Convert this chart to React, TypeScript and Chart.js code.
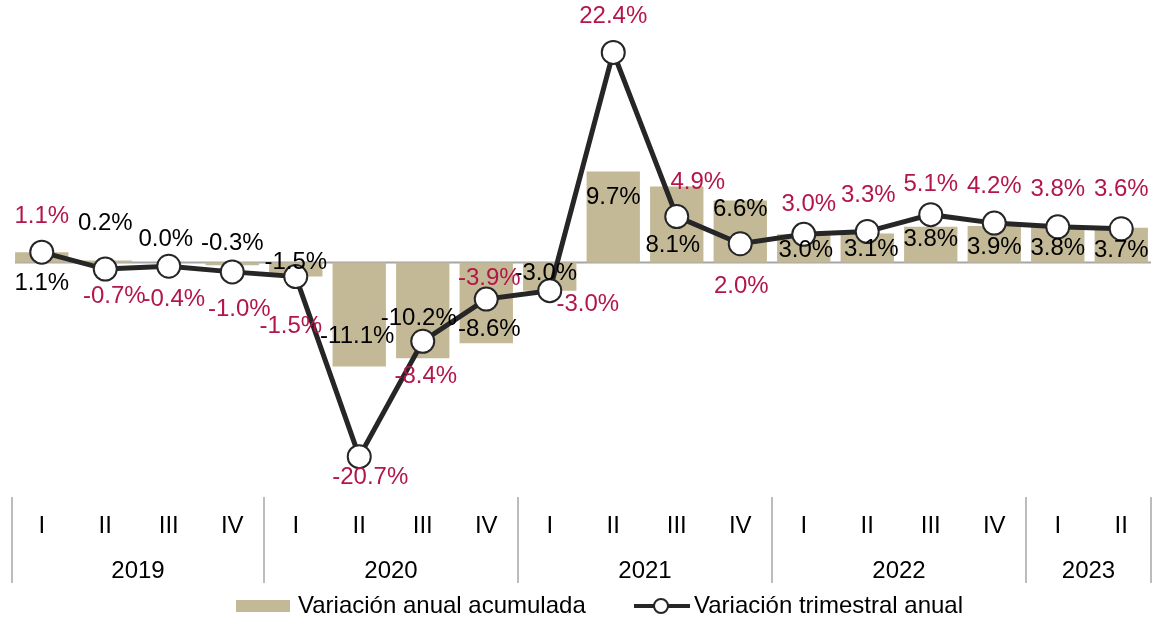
import React, { useEffect, useRef } from "react";
import { Chart, registerables } from "chart.js";

Chart.register(...registerables);

// ---- data ----
const quarters = ["I", "II", "III", "IV", "I", "II", "III", "IV", "I", "II", "III", "IV", "I", "II", "III", "IV", "I", "II"];
const years = ["2019", "2020", "2021", "2022", "2023"];
const quartersPerYear = [4, 4, 4, 4, 2];
const acumulada = [1.1, 0.2, 0.0, -0.3, -1.5, -11.1, -10.2, -8.6, -3.0, 9.7, 8.1, 6.6, 3.0, 3.1, 3.8, 3.9, 3.8, 3.7];
const trimestral = [1.1, -0.7, -0.4, -1.0, -1.5, -20.7, -8.4, -3.9, -3.0, 22.4, 4.9, 2.0, 3.0, 3.3, 5.1, 4.2, 3.8, 3.6];
const seriesNames = ["Variación anual acumulada", "Variación trimestral anual"];

// ---- label placement (style) ----
const lineLabelOffsets: [number, number][] = [
  [0, -36], [9, 27], [5, 33], [7, 37], [-5, 50], [11, 21], [3, 35], [3, -21], [38, 14],
  [0, -36], [21, -34], [1, 43], [5, -30], [1, -36], [0, -30], [0, -37], [0, -37], [0, -39],
];
const barLabelOffsets: [number, number][] = [
  [0, 31], [0, -37], [-3, -23], [0, -22], [0, -14], [-2, -30], [-4, -40], [3, -14], [-4, -17],
  [0, 26], [-4, 59], [0, 9], [2, 16], [4, 16], [0, 13], [0, 21], [0, 22], [0, 23],
];

const BAR_COLOR = "#C3B996";
const LINE_COLOR = "#262626";
const RED = "#B3164B";
const AXIS_GRAY = "#A6A6A6";
const FONT = '"Liberation Sans", Arial, sans-serif';
const FS = 24;

const fmt = (v: number) => v.toFixed(1) + "%";

const overlayPlugin = {
  id: "overlay",
  beforeDatasetsDraw(chart: any) {
    const { ctx, chartArea, scales } = chart;
    const y0 = scales.y.getPixelForValue(0);
    ctx.save();
    ctx.strokeStyle = AXIS_GRAY;
    ctx.lineWidth = 2;
    ctx.beginPath();
    ctx.moveTo(chartArea.left + 5, y0);
    ctx.lineTo(chartArea.right - 2, y0);
    ctx.stroke();
    ctx.restore();
  },
  afterDatasetsDraw(chart: any) {
    const { ctx, scales } = chart;
    const x = scales.x;
    const y = scales.y;
    ctx.save();
    ctx.font = `${FS}px ${FONT}`;
    ctx.textAlign = "center";
    ctx.textBaseline = "middle";
    acumulada.forEach((v, i) => {
      const px = x.getPixelForValue(i) + barLabelOffsets[i][0];
      const py = y.getPixelForValue(v) + barLabelOffsets[i][1];
      ctx.fillStyle = "#000000";
      ctx.fillText(fmt(v), px, py);
    });
    trimestral.forEach((v, i) => {
      const px = x.getPixelForValue(i) + lineLabelOffsets[i][0];
      const py = y.getPixelForValue(v) + lineLabelOffsets[i][1];
      ctx.fillStyle = RED;
      ctx.fillText(fmt(v), px, py);
    });
    ctx.restore();
  },
  afterDraw(chart: any) {
    const { ctx, chartArea, scales } = chart;
    const x = scales.x;
    const step = x.getPixelForValue(1) - x.getPixelForValue(0);
    const top = chartArea.bottom;
    const bottom = top + 86;
    ctx.save();
    // separators
    ctx.strokeStyle = AXIS_GRAY;
    ctx.lineWidth = 1.5;
    let idx = 0;
    const bounds: number[] = [x.getPixelForValue(0) - step / 2 + 2];
    quartersPerYear.forEach((n) => {
      idx += n;
      bounds.push(x.getPixelForValue(idx - 1) + step / 2 - (idx === quarters.length ? 2 : 0));
    });
    bounds.forEach((bx) => {
      ctx.beginPath();
      ctx.moveTo(bx, top);
      ctx.lineTo(bx, bottom);
      ctx.stroke();
    });
    // quarter labels
    ctx.fillStyle = "#000000";
    ctx.font = `${FS}px ${FONT}`;
    ctx.textAlign = "center";
    ctx.textBaseline = "middle";
    quarters.forEach((q, i) => {
      ctx.fillText(q, x.getPixelForValue(i), top + 29);
    });
    // year labels
    years.forEach((yr, k) => {
      ctx.fillText(yr, (bounds[k] + bounds[k + 1]) / 2, top + 74);
    });
    // legend
    const ly = 606;
    ctx.fillStyle = BAR_COLOR;
    ctx.fillRect(236, ly - 6, 54, 12);
    ctx.fillStyle = "#000000";
    ctx.textAlign = "left";
    ctx.fillText(seriesNames[0], 298, ly);
    ctx.strokeStyle = LINE_COLOR;
    ctx.lineWidth = 4;
    ctx.beginPath();
    ctx.moveTo(634, ly);
    ctx.lineTo(690, ly);
    ctx.stroke();
    ctx.beginPath();
    ctx.arc(661, ly, 7, 0, Math.PI * 2);
    ctx.fillStyle = "#FFFFFF";
    ctx.fill();
    ctx.lineWidth = 2;
    ctx.stroke();
    ctx.fillStyle = "#000000";
    ctx.fillText(seriesNames[1], 694, ly);
    ctx.restore();
  },
};

export default function App() {
  const ref = useRef<HTMLCanvasElement | null>(null);
  useEffect(() => {
    document.body.style.margin = "0";
    if (!ref.current) return;
    const chart = new Chart(ref.current, {
      type: "bar",
      data: {
        labels: quarters,
        datasets: [
          {
            type: "line",
            label: seriesNames[1],
            data: trimestral,
            borderColor: LINE_COLOR,
            borderWidth: 5,
            pointRadius: 11.5,
            pointBackgroundColor: "#FFFFFF",
            pointBorderColor: LINE_COLOR,
            pointBorderWidth: 2,
            tension: 0,
            order: 0,
          } as any,
          {
            type: "bar",
            label: seriesNames[0],
            data: acumulada,
            backgroundColor: BAR_COLOR,
            categoryPercentage: 1,
            barPercentage: 0.84,
            order: 1,
          },
        ],
      },
      options: {
        animation: false,
        responsive: false,
        maintainAspectRatio: false,
        layout: { autoPadding: false, padding: { left: 10, right: 5, top: 28, bottom: 124 } },
        plugins: { legend: { display: false }, tooltip: { enabled: false } },
        scales: {
          x: { display: false, offset: true },
          y: { display: false, min: -25, max: 25 },
        },
      },
      plugins: [overlayPlugin],
    });
    return () => chart.destroy();
  }, []);
  return <canvas ref={ref} width={1158} height={621} style={{ display: "block" }} />;
}
